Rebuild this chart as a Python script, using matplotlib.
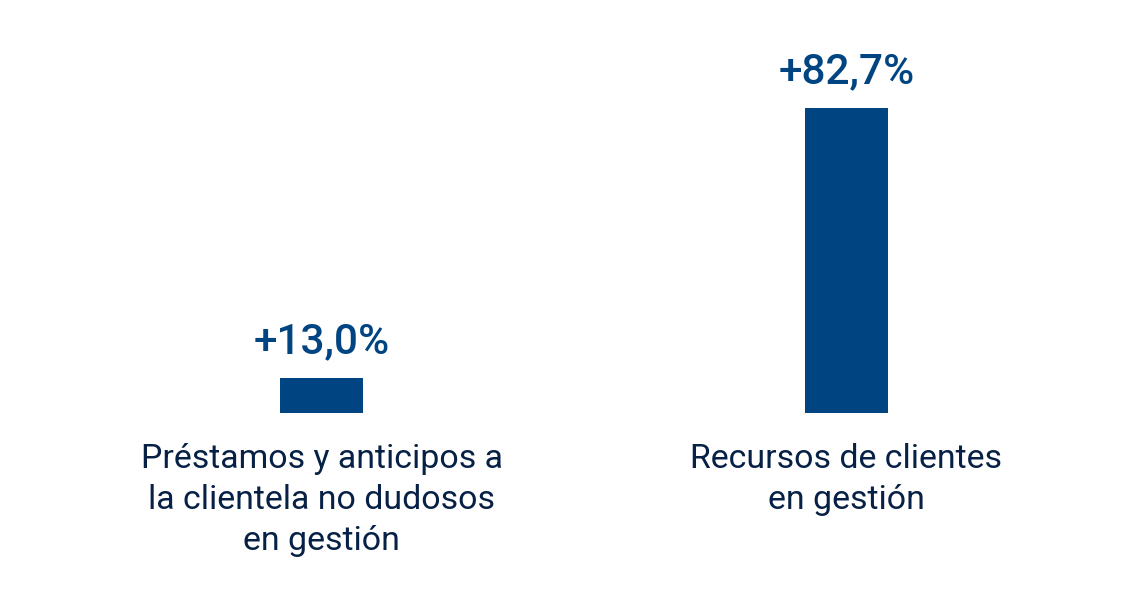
import matplotlib
matplotlib.use("Agg")
import matplotlib.pyplot as plt

categories = ["Préstamos y anticipos a\nla clientela no dudosos\nen gestión",
              "Recursos de clientes\nen gestión"]
values = [13.0, 82.7]
value_labels = ["+13,0%", "+82,7%"]

BAR = "#004481"
TXT = "#072146"

fig = plt.figure(figsize=(11.47, 5.95), dpi=100)
ax = fig.add_axes([0, (595 - 413) / 595, 1, (413 - 108) / 595])
x = list(range(len(categories)))
ax.bar(x, values, width=0.158, color=BAR, zorder=2)
ax.set_xlim(-0.6124, 1.5724)
ax.set_ylim(3.96, 82.7)

for xi, v, lab in zip(x, values, value_labels):
    ax.annotate(lab, (xi, v), xytext=(0, 11), textcoords="offset points",
                ha="center", va="bottom", fontsize=30.5, fontweight="medium",
                family="Roboto", color=BAR)

ax.set_xticks(x)
ax.set_xticklabels(categories, fontsize=24.4, family="Roboto", color=TXT,
                   linespacing=1.37)
ax.tick_params(axis="x", length=0, pad=21.5)
ax.set_yticks([])
for s in ax.spines.values():
    s.set_visible(False)
ax.patch.set_alpha(0)

fig.savefig("out.png", dpi=100)
